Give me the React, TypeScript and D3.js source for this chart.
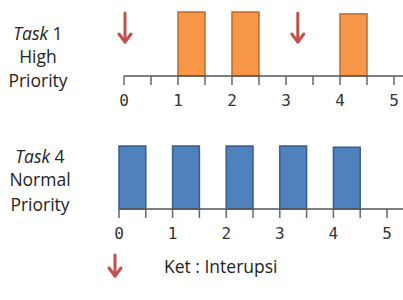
import React from "react";
import * as d3 from "d3";

const highStarts = [1, 2, 4];
const highHeights = [1, 1, 0.97];
const normalStarts = [0, 1, 2, 3, 4];
const normalHeights = [1, 1, 1, 1, 0.98];
const burst = 0.5;
const interrupts = [0, 3.2];
const tickValues = d3.range(0, 5.01, 0.5);
const tickLabels = ["0", "1", "2", "3", "4", "5"];

const W = 403, H = 300;
const ARROW = "#C0504D";

function Arrow({ x, y1, y2 }: { x: number; y1: number; y2: number }) {
  return (
    <g stroke={ARROW} strokeWidth={3} fill="none" strokeLinecap="round" strokeLinejoin="round">
      <line x1={x} y1={y1} x2={x} y2={y2} />
      <polyline points={`${x - 6},${y2 - 8} ${x},${y2} ${x + 6},${y2 - 8}`} />
    </g>
  );
}

function Timeline({ x, axisY, top, starts, heights, fill, stroke, xEnd }: any) {
  const y = d3.scaleLinear().domain([0, 1]).range([axisY, top]);
  return (
    <g>
      {starts.map((s: number, i: number) => (
        <rect key={i} x={x(s)} y={y(heights[i])} width={x(s + burst) - x(s)} height={axisY - y(heights[i])}
          fill={fill} stroke={stroke} strokeWidth={1.5} />
      ))}
      <line x1={x(0)} x2={xEnd} y1={axisY} y2={axisY} stroke="#555" strokeWidth={1.3} />
      {tickValues.map((t, i) => (
        <line key={i} x1={x(t)} x2={x(t)} y1={axisY} y2={axisY + 9} stroke="#666" strokeWidth={1.5} />
      ))}
      {tickLabels.map((l, i) => (
        <text key={l} x={x(i)} y={axisY + 30} textAnchor="middle" fontFamily="DejaVu Sans Mono" fontSize={16} fill="#333">{l}</text>
      ))}
    </g>
  );
}

export default function App() {
  const xTop = d3.scaleLinear().domain([0, 5]).range([124, 394]);
  const xBot = d3.scaleLinear().domain([0, 5]).range([119, 387]);
  const font = "'Open Sans', sans-serif";
  return (
    <svg width={W} height={H} style={{ position: "absolute", left: 0, top: 0, background: "#fff" }}>
      <g fontFamily={font} fontSize={17.5} fill="#222" textAnchor="middle">
        <text x={38} y={40}><tspan fontStyle="italic">Task</tspan> 1</text>
        <text x={38} y={63}>High</text>
        <text x={38} y={87}>Priority</text>
        <text x={40} y={163}><tspan fontStyle="italic">Task</tspan> 4</text>
        <text x={40} y={186}>Normal</text>
        <text x={40} y={211}>Priority</text>
      </g>
      <Timeline x={xTop} axisY={76} top={12} starts={highStarts} heights={highHeights}
        fill="#F79646" stroke="#B66D31" xEnd={403} />
      <Timeline x={xBot} axisY={209} top={146} starts={normalStarts} heights={normalHeights}
        fill="#4F81BD" stroke="#385D8A" xEnd={403} />
      {interrupts.map((t, i) => (
        <Arrow key={i} x={xTop(t) + 1} y1={13} y2={42} />
      ))}
      <Arrow x={115} y1={255} y2={276} />
      <text x={164} y={273} fontFamily={font} fontSize={17.5} fill="#222">Ket : Interupsi</text>
    </svg>
  );
}
